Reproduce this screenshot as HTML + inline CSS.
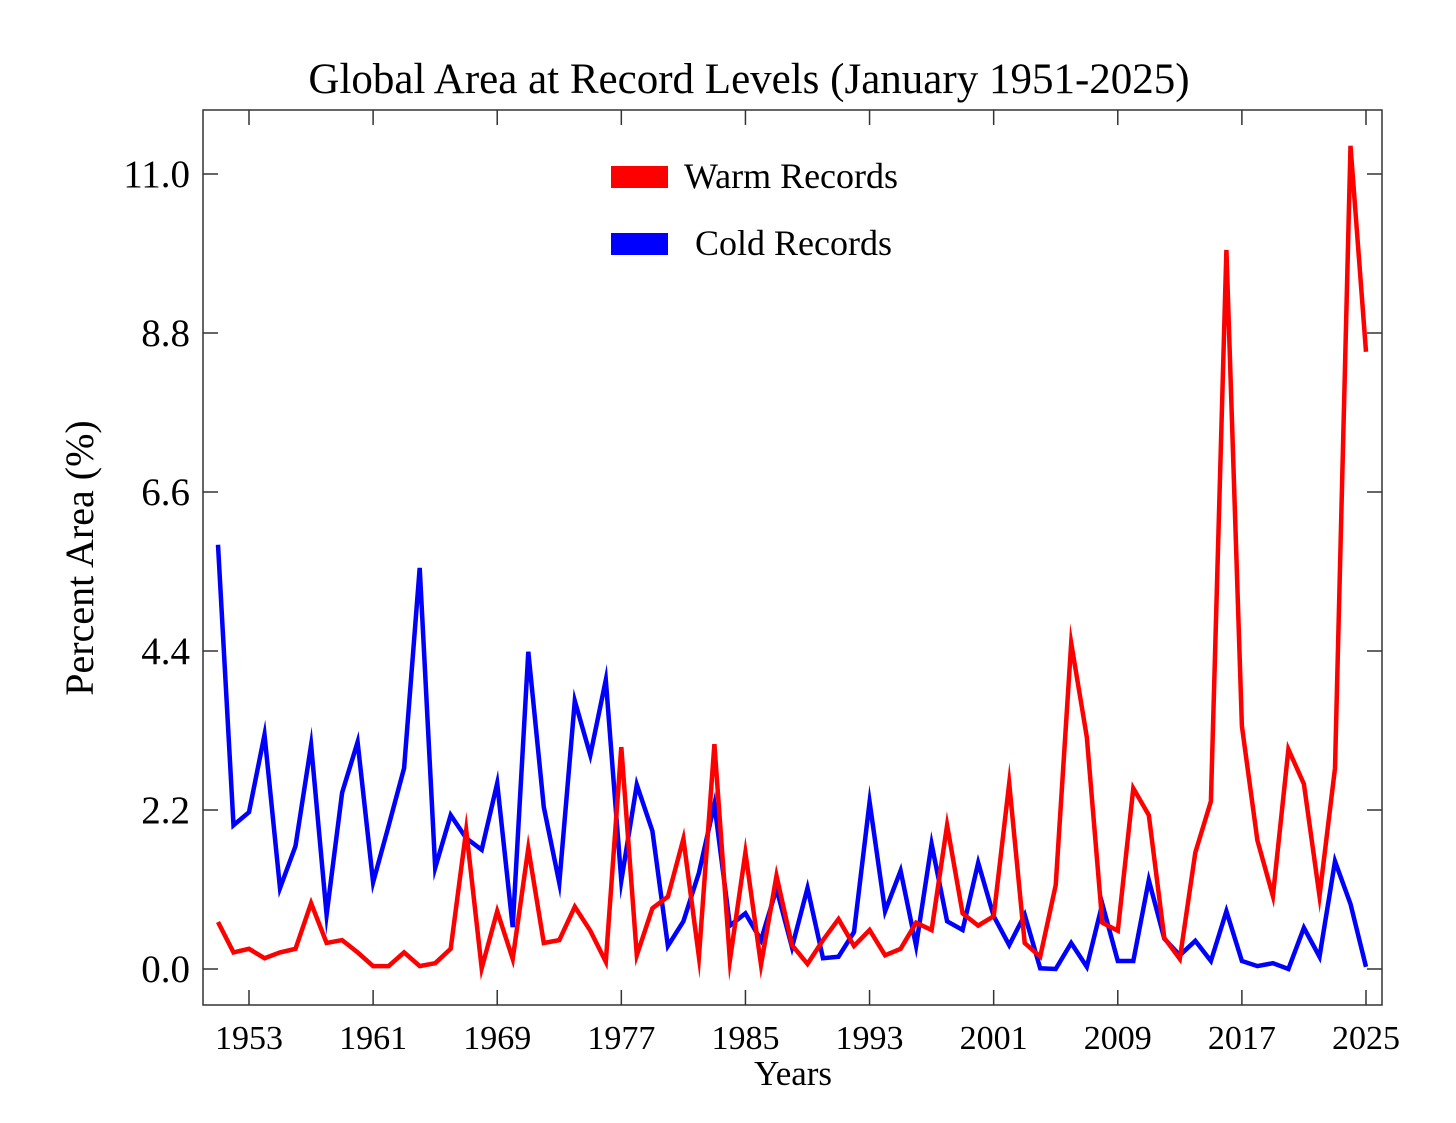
<!DOCTYPE html>
<html><head><meta charset="utf-8"><style>
html,body{margin:0;padding:0;background:#fff;}
svg text{font-family:"Liberation Serif",serif;fill:#000;}
</style></head><body>
<svg id="chart" width="1456" height="1118" viewBox="0 0 1456 1118" xmlns="http://www.w3.org/2000/svg">
<rect x="0" y="0" width="1456" height="1118" fill="#fff"/>
<text x="749" y="93" font-size="43" text-anchor="middle">Global Area at Record Levels (January 1951-2025)</text>
<rect x="203" y="110" width="1179" height="895" fill="none" stroke="#333" stroke-width="1.5"/>
<g id="ticks"></g>
<g id="series"></g>
<text x="793" y="1085" font-size="35" text-anchor="middle">Years</text>
<text transform="translate(93,558) rotate(-90)" font-size="40" text-anchor="middle">Percent Area (%)</text>
<g>
<rect x="611" y="166" width="57" height="22" fill="#ff0000"/>
<text x="684" y="188" font-size="36">Warm Records</text>
<rect x="611" y="233" width="57" height="22" fill="#0000ff"/>
<text x="695" y="255" font-size="36">Cold Records</text>
</g>
</svg>
<script>
const years = [];
for (let y = 1951; y <= 2025; y++) years.push(y);
const warm = [0.65,0.23,0.28,0.15,0.23,0.28,0.91,0.36,0.40,0.23,0.04,0.04,0.23,0.04,0.08,0.28,1.92,0.01,0.80,0.14,1.67,0.36,0.40,0.86,0.53,0.10,3.07,0.19,0.84,1.00,1.80,0.17,3.11,0.12,1.61,0.06,1.29,0.33,0.07,0.40,0.69,0.32,0.54,0.19,0.28,0.64,0.54,1.99,0.77,0.60,0.73,2.57,0.36,0.17,1.16,4.51,3.21,0.64,0.53,2.50,2.13,0.43,0.14,1.61,2.32,9.95,3.36,1.78,1.01,3.04,2.56,1.01,2.78,11.39,8.54];
const cold = [5.87,1.99,2.17,3.24,1.12,1.70,3.10,0.75,2.44,3.14,1.20,1.98,2.78,5.55,1.40,2.13,1.81,1.65,2.57,0.58,4.39,2.24,1.19,3.71,2.96,4.00,1.22,2.55,1.91,0.32,0.66,1.33,2.28,0.60,0.77,0.40,1.11,0.30,1.12,0.15,0.17,0.51,2.31,0.80,1.36,0.32,1.73,0.66,0.54,1.47,0.73,0.33,0.75,0.01,0.00,0.36,0.03,0.90,0.11,0.11,1.23,0.42,0.19,0.39,0.11,0.80,0.11,0.04,0.08,0.00,0.57,0.17,1.49,0.90,0.03];
const yTicks = [0.0,2.2,4.4,6.6,8.8,11.0];
const xTicks = [1953,1961,1969,1977,1985,1993,2001,2009,2017,2025];

const NS = "http://www.w3.org/2000/svg";
const xs = yr => 249 + (yr - 1953) * (1366 - 249) / 72;
const ys = v => 969 - v * (969 - 174) / 11;
const L = 203, R = 1382, T = 110, B = 1005;
const tg = document.getElementById('ticks');
function mk(tag, attrs, parent) {
  const e = document.createElementNS(NS, tag);
  for (const k in attrs) e.setAttribute(k, attrs[k]);
  parent.appendChild(e);
  return e;
}
yTicks.forEach(v => {
  const y = ys(v);
  const l1 = mk('line', {x1: L, x2: L + 15, y1: y, y2: y, stroke: '#333', 'stroke-width': 1.5}, tg);
  
  
  const l2 = mk('line', {x1: R - 15, x2: R, y1: y, y2: y, stroke: '#333', 'stroke-width': 1.5}, tg);
  
  
  const t = mk('text', {x: 190, y: y + 13, 'font-size': 39, 'text-anchor': 'end'}, tg);
  t.textContent = v.toFixed(1);
  
  
});
xTicks.forEach(yr => {
  const x = xs(yr);
  const l1 = mk('line', {x1: x, x2: x, y1: B, y2: B - 15, stroke: '#333', 'stroke-width': 1.5}, tg);
  
  
  const l2 = mk('line', {x1: x, x2: x, y1: T, y2: T + 15, stroke: '#333', 'stroke-width': 1.5}, tg);
  
  
  const t = mk('text', {x: x, y: 1049, 'font-size': 34, 'text-anchor': 'middle'}, tg);
  t.textContent = yr;
  
  
});
const sg = document.getElementById('series');
function line(vals, color, name) {
  const pts = vals.map((v, i) => xs(years[i]).toFixed(1) + ',' + ys(v).toFixed(1)).join(' ');
  const p = mk('polyline', {points: pts, fill: 'none', stroke: color, 'stroke-width': 4.5, 'stroke-linejoin': 'miter', 'stroke-miterlimit': 10}, sg);
  
  
}
line(cold, '#0000ff', 'cold-records-line');
line(warm, '#ff0000', 'warm-records-line');
</script>
</body></html>
